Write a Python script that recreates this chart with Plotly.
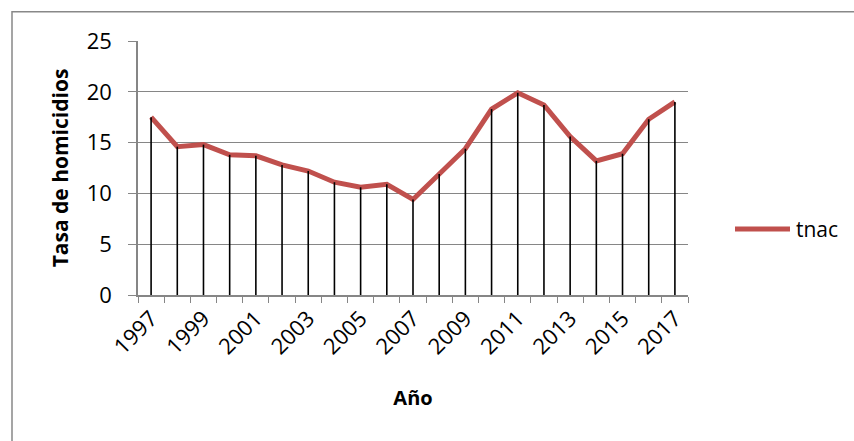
import plotly.graph_objects as go

# Homicide rate per year
years = list(range(1997, 2018))
tnac = [17.5, 14.6, 14.8, 13.8, 13.7, 12.8, 12.2, 11.1, 10.6, 10.9, 9.4,
        11.9, 14.4, 18.3, 19.9, 18.7, 15.6, 13.2, 13.9, 17.3, 19.0]
label_years = years[::2]
y_ticks = [0, 5, 10, 15, 20, 25]

FONT = "Open Sans"
LINE_RED = "#C0504D"
GRID = "#868686"

fig = go.Figure()

fig.add_trace(go.Scatter(
    x=years, y=tnac, mode="lines", name="tnac",
    line=dict(color=LINE_RED, width=5),
    showlegend=False,
))

# drop lines from each point to the axis
drop_x, drop_y = [], []
for yr, v in zip(years, tnac):
    drop_x += [yr, yr, None]
    drop_y += [0, v, None]
fig.add_trace(go.Scatter(
    x=drop_x, y=drop_y, mode="lines",
    line=dict(color="black", width=1.6),
    showlegend=False, hoverinfo="skip",
))

fig.update_xaxes(
    range=[years[0] - 0.5, years[-1] + 0.5],
    tickvals=label_years,
    ticktext=[str(y) for y in label_years],
    tickangle=-45,
    ticks="",
    showgrid=False,
    showline=True, linecolor=GRID, linewidth=2,
    zeroline=False,
    tickfont=dict(family=FONT, size=22, color="black"),
    minor=dict(tickvals=[y + 0.5 for y in [years[0] - 1] + years],
               ticks="outside", ticklen=6, tickcolor=GRID, tickwidth=1,
               showgrid=False),
    title=dict(text="<b>Año</b>", font=dict(family=FONT, size=20, color="black"),
               standoff=32),
)

fig.update_yaxes(
    range=[0, 25],
    tickvals=y_ticks,
    ticks="outside", ticklen=8, tickcolor=GRID, tickwidth=1,
    showgrid=True, gridcolor=GRID, gridwidth=1,
    showline=True, linecolor=GRID, linewidth=1.5,
    zeroline=False,
    ticklabelstandoff=12,
    tickfont=dict(family=FONT, size=22, color="black"),
    title=dict(text="<b>Tasa de homicidios</b>",
               font=dict(family=FONT, size=21, color="black"), standoff=12),
)

# legend entry
fig.add_shape(type="line", xref="paper", yref="paper",
              x0=(735 - 138) / 550, x1=(790 - 138) / 550,
              y0=(295 - 229) / 254.3, y1=(295 - 229) / 254.3,
              line=dict(color=LINE_RED, width=5))
fig.add_annotation(text="tnac", xref="paper", yref="paper",
                   x=(794 - 138) / 550, y=(295 - 229) / 254.3,
                   xanchor="left", yanchor="middle", showarrow=False,
                   font=dict(family=FONT, size=21, color="black"))

# chart border
fig.add_shape(type="rect", xref="paper", yref="paper",
              x0=(12 - 138) / 550, x1=(870 - 138) / 550,
              y0=(295 - 460) / 254.3, y1=(295 - 11.5) / 254.3,
              line=dict(color="#888888", width=1.5))

fig.update_layout(
    width=854, height=441,
    margin=dict(l=138, r=166, t=41, b=146, autoexpand=False),
    paper_bgcolor="white", plot_bgcolor="white",
    font=dict(family=FONT, color="black"),
)

fig.write_html("out.html")
